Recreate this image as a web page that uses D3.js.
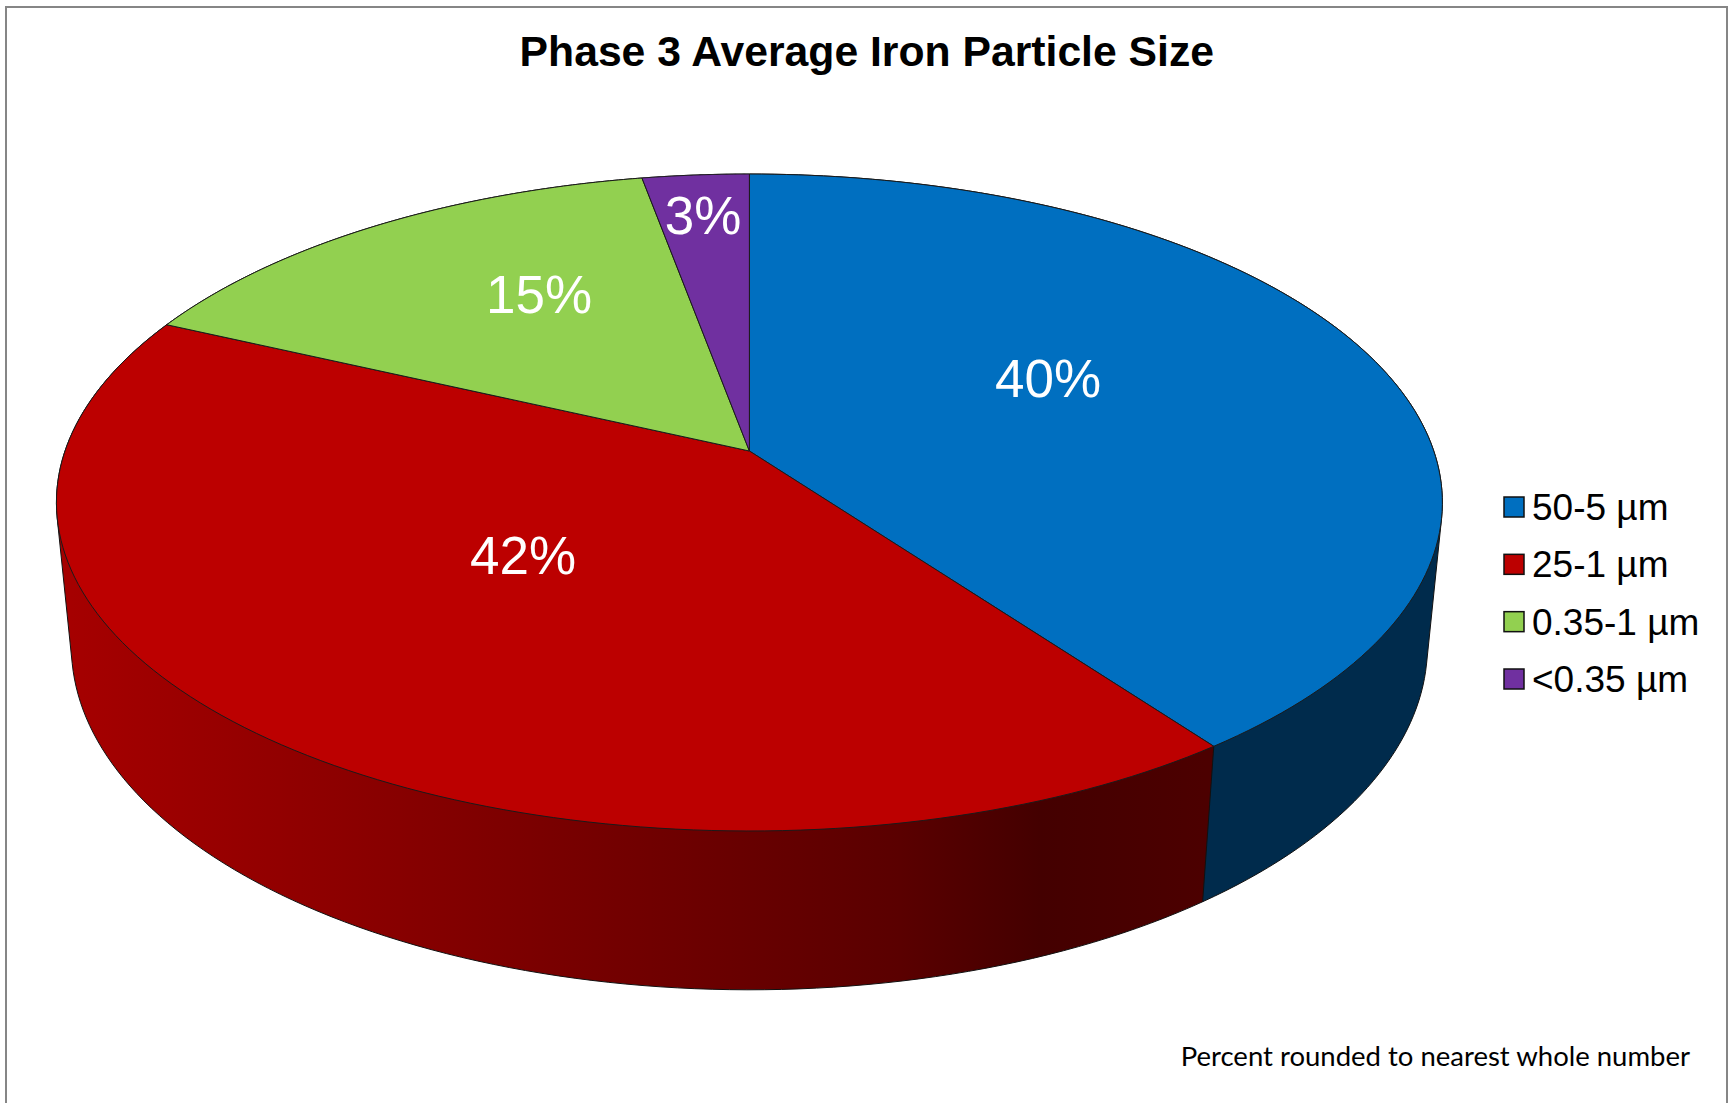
<!DOCTYPE html>
<html lang="en">
<head>
    <meta charset="UTF-8">
    <script src="https://d3js.org/d3.v7.min.js"></script>
    <style>
        html, body { margin: 0; padding: 0; background: #fff; }
        svg { display: block; }
        text { font-family: "Liberation Sans", Arial, sans-serif; }
        .title { font-size: 42.7px; font-weight: bold; text-anchor: middle; fill: #000; }
        .pct { font-size: 53px; fill: #fff; text-anchor: middle; dominant-baseline: central; }
        .legend-label { font-size: 37px; fill: #000; }
        .note { font-family: Lato, sans-serif; font-size: 27.5px; fill: #000; text-anchor: end; }
    </style>
</head>
<body>
    <svg id="chart" width="1728" height="1103"></svg>

    <script>
        const categories = ["50-5 µm", "25-1 µm", "0.35-1 µm", "<0.35 µm"];
        const values = [39.9, 42.0, 15.2, 2.9];
        const topColors = ["#006fc0", "#bc0000", "#92d050", "#7030a0"];
        const wallColors = ["#002b4c", "url(#redWall)", "#577d30", "#431d60"];
        const labelCentres = [[1048, 378], [523, 555], [539, 294], [703, 215]];

        const svg = d3.select("#chart");

        // camera fitted to the picture: disk centre, radii, perspective and wall depth
        const cx = 749.4, cy = 451, a = 684.4, b = 320.4, k = 0.1568, m = 0.0215, depth = 145.5;

        function project(angle, z) {
            const X = Math.sin(angle), Y = -Math.cos(angle);
            const w = 1 - k * Y + m * z;
            return [cx + a * X / w, cy + (b * Y + depth * z) / w];
        }

        const arcs = d3.pie().sort(null).value(d => d)(values);
        const arcPoints = (d, z) => d3.range(0, 121).map(i =>
            project(d.startAngle + (d.endAngle - d.startAngle) * i / 120, z));
        const line = d3.line();
        const pct = d3.format(".0f");

        // frame, no bottom edge in the source
        svg.append("path")
            .attr("d", "M6,1103V7H1727V1103")
            .attr("fill", "none")
            .attr("stroke", "#868686")
            .attr("stroke-width", 2);

        svg.append("text")
            .attr("class", "title")
            .attr("x", 866.8)
            .attr("y", 66)
            .text("Phase 3 Average Iron Particle Size");

        const grad = svg.append("defs").append("linearGradient")
            .attr("id", "redWall")
            .attr("gradientUnits", "userSpaceOnUse")
            .attr("x1", 60).attr("x2", 1205).attr("y1", 0).attr("y2", 0);
        [[0.01, "#a50000"], [0.21, "#900000"], [0.515, "#700000"], [0.734, "#5a0000"], [0.856, "#440000"], [1, "#4c0000"]].forEach(s => {
            grad.append("stop").attr("offset", s[0]).attr("stop-color", s[1]);
        });

        // side wall: hull of top and bottom rims, the top disk covers the rest
        svg.append("g").selectAll("path")
            .data(arcs)
            .join("path")
            .attr("d", d => line(d3.polygonHull(arcPoints(d, 0).concat(arcPoints(d, 1)))) + "Z")
            .attr("fill", (d, i) => wallColors[i])
            .attr("stroke", "#111")
            .attr("stroke-width", 1)
            .attr("stroke-linejoin", "round");

        svg.append("g").selectAll("path")
            .data(arcs)
            .join("path")
            .attr("d", d => line([[cx, cy]].concat(arcPoints(d, 0))) + "Z")
            .attr("fill", (d, i) => topColors[i])
            .attr("stroke", "#1a1a1a")
            .attr("stroke-width", 1)
            .attr("stroke-linejoin", "round");

        svg.append("g").selectAll("text")
            .data(values)
            .join("text")
            .attr("class", "pct")
            .attr("x", (d, i) => labelCentres[i][0])
            .attr("y", (d, i) => labelCentres[i][1])
            .text(d => `${pct(d)}%`);

        const legendY = d3.scalePoint()
            .domain(categories)
            .range([507, 679]);

        const legend = svg.append("g").selectAll("g")
            .data(categories)
            .join("g")
            .attr("transform", d => `translate(1504,${legendY(d)})`);

        legend.append("rect")
            .attr("x", 0)
            .attr("y", -10)
            .attr("width", 20)
            .attr("height", 20)
            .attr("fill", (d, i) => topColors[i])
            .attr("stroke", "#111")
            .attr("stroke-width", 1.5);

        legend.append("text")
            .attr("class", "legend-label")
            .attr("x", 28)
            .attr("y", 13)
            .text(d => d);

        svg.append("text")
            .attr("class", "note")
            .attr("x", 1690)
            .attr("y", 1066)
            .text("Percent rounded to nearest whole number");
    </script>
</body>
</html>
